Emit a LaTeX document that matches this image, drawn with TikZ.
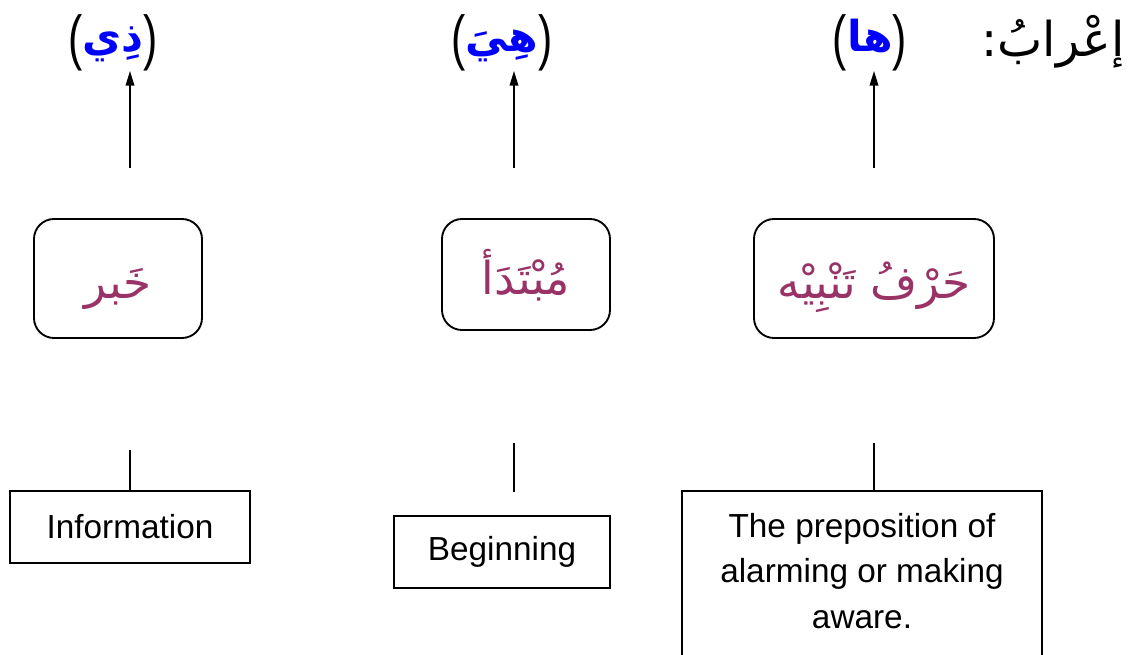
\documentclass[tikz,border=0pt]{standalone}
\usepackage{fontspec}
\setmainfont{Liberation Sans}
\newfontfamily\arabicfont[Script=Arabic]{DejaVu Sans}
\TeXXeTstate=1
\usetikzlibrary{arrows.meta}
\definecolor{maroon}{HTML}{993366}
\newcommand{\tallparen}[1]{\raisebox{-0.16em}{\scalebox{1}[1.42]{#1}}}
\newcommand{\lowered}[1]{\smash{\raisebox{-0.45em}{#1}}}
\begin{document}
\begin{tikzpicture}[x=0.75pt,y=-0.75pt,
  ln/.style={line width=1.1pt},
  arr/.style={line width=1.1pt,-{Triangle[length=11pt,width=6.5pt]}},
  rbox/.style={draw,line width=1.4pt,rounded corners=15pt,inner sep=0pt,text=maroon,font=\fontsize{34}{40}\arabicfont},
  sbox/.style={draw,line width=1.4pt,inner sep=0pt,font=\fontsize{25}{30}\selectfont,align=center},
  top/.style={font=\fontsize{32}{40}\selectfont,inner sep=0pt}]
\useasboundingbox (0,0) rectangle (1128,655);
% top labels
\node[font=\fontsize{36}{42}\selectfont,inner sep=0pt] (title) at (1053,42) {\arabicfont\beginR إعْرابُ:\endR};
\node[top] (t3) at (870,43) {\tallparen{(}\textcolor{blue}{\arabicfont\bfseries\beginR ها\endR}\tallparen{)}};
\node[top] (t2) at (502,43) {\tallparen{(}\textcolor{blue}{\arabicfont\bfseries\beginR هِيَ\endR}\tallparen{)}};
\node[top] (t1) at (113,43) {\tallparen{(}\textcolor{blue}{\arabicfont\bfseries\beginR ذِي\endR}\tallparen{)}};
% arrows
\coordinate (a1b) at (130,168); \coordinate (a1t) at (130,71);
\coordinate (a2b) at (514,168); \coordinate (a2t) at (514,71);
\coordinate (a3b) at (874,168); \coordinate (a3t) at (874,71);
\draw[arr] (a1b) -- (a1t);
\draw[arr] (a2b) -- (a2t);
\draw[arr] (a3b) -- (a3t);
% rounded boxes
\node[rbox,minimum width=168*0.75pt,minimum height=119*0.75pt] (r1) at (118,278.5) {\lowered{\beginR خَبر\endR}};
\node[rbox,minimum width=168*0.75pt,minimum height=111*0.75pt] (r2) at (526,274.5) {\lowered{\beginR مُبْتَدَأ\endR}};
\node[rbox,minimum width=240*0.75pt,minimum height=119*0.75pt] (r3) at (874,278.5) {\lowered{\beginR حَرْفُ تَنْبِيْه\endR}};
% lower boxes
\node[sbox,minimum width=240*0.75pt,minimum height=72*0.75pt] (d1) at (130,527) {Information};
\node[sbox,minimum width=216*0.75pt,minimum height=72*0.75pt] (d2) at (502,552) {Beginning};
\node[font=\fontsize{25}{34}\selectfont,align=center,inner sep=0pt] (d3) at (862,571) {The preposition of\\alarming or making\\aware.};
\draw[line width=1.4pt] (682,656) -- (682,491) -- (1042,491) -- (1042,656);
% connector lines
\coordinate (l1t) at (130,450); \coordinate (l1b) at (130,491);
\coordinate (l2t) at (514,443); \coordinate (l2b) at (514,492);
\coordinate (l3t) at (874,443); \coordinate (l3b) at (874,491);
\draw[ln] (l1t) -- (l1b);
\draw[ln] (l2t) -- (l2b);
\draw[ln] (l3t) -- (l3b);
\end{tikzpicture}
\end{document}
